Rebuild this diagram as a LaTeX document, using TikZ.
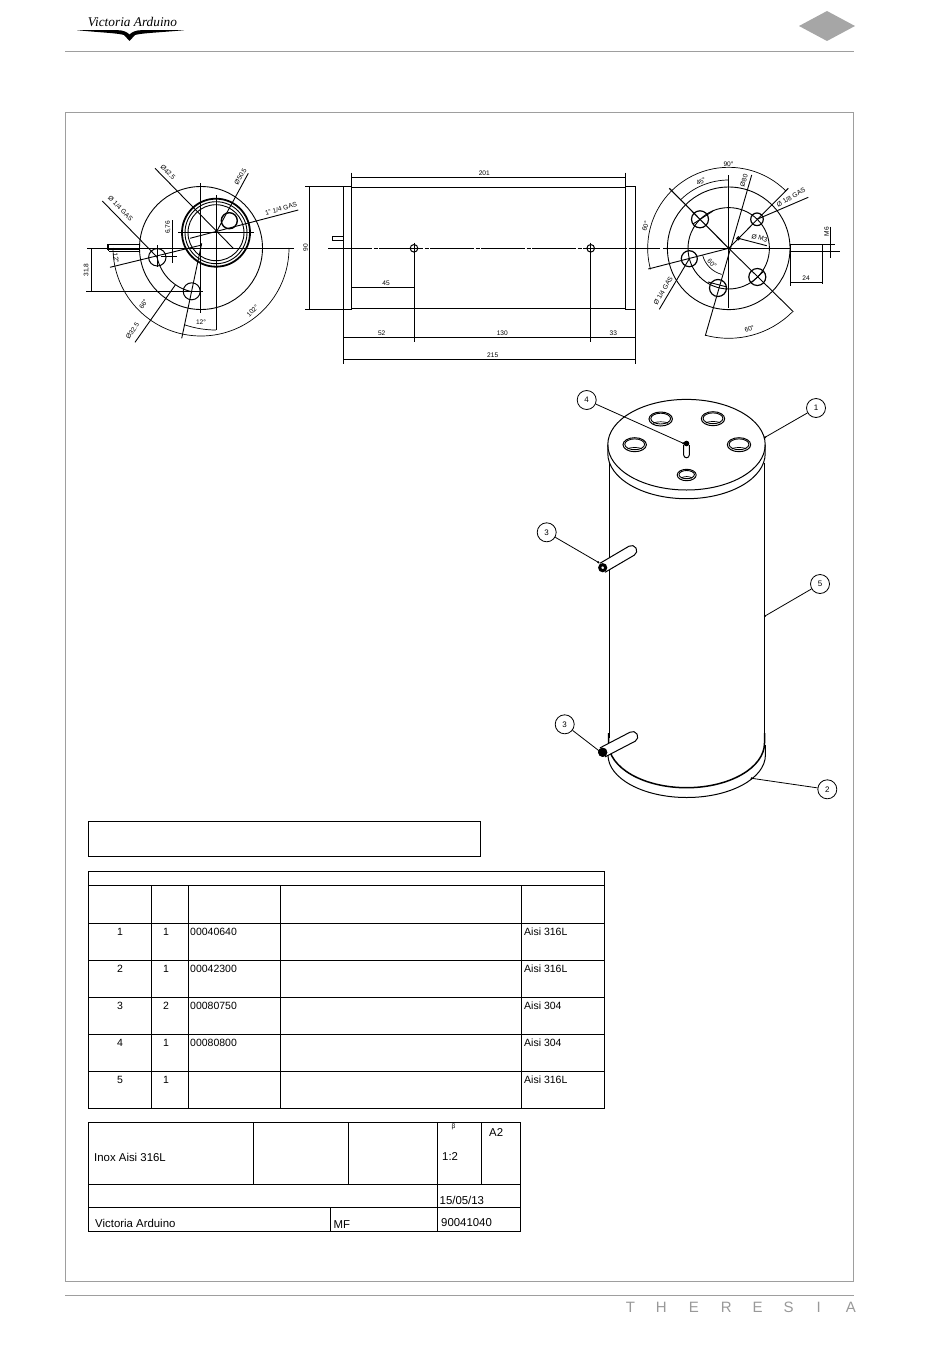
\documentclass[tikz,border=0pt]{standalone}
\usepackage{fontspec}
\setmainfont{Liberation Sans}
\usetikzlibrary{positioning,calc}
\definecolor{framegray}{gray}{0.62}
\tikzset{
  pipeline/.style={line width=0.9pt,black},
  hairline/.style={line width=0.7pt,black},
  heavyline/.style={line width=1.4pt,black},
  framerule/.style={line width=0.8pt,framegray},
  gridline/.style={line width=0.7pt,black},
  dimlabel/.style={font=\fontsize{6.6}{7}\selectfont,inner sep=0pt},
  celltext/.style={font=\fontsize{10.5}{12}\selectfont,inner sep=0pt,anchor=west},
  titletext/.style={font=\fontsize{11.4}{13}\selectfont,inner sep=0pt,anchor=west},
  balloon/.style={draw,circle,line width=0.8pt,minimum size=19pt,inner sep=0pt,fill=white,font=\fontsize{8}{9}\selectfont},
}
\newcommand{\dimarc}[4]{\draw[hairline] ($(#1)+(#2:#4)$) arc[start angle=#2,end angle=#3,radius=#4];}
\begin{document}
\begin{tikzpicture}[x=1pt,y=1pt]
  \useasboundingbox (0,0) rectangle (950,-1346);

  % page furniture
  \draw[framerule] (65,-51) -- (854,-51);
  \draw[framerule] (65,-1295) -- (854,-1295);
  \draw[framerule] (65.5,-112.5) rectangle (853.5,-1281.5);
  \fill[black!35] (799,-26) -- (827,-11) -- (855,-26) -- (827,-41) -- cycle;
  \node[inner sep=0pt] (logo) at (132.5,-22) {\fontspec{Liberation Serif}[Scale=0.7]\fontsize{19}{20}\selectfont\itshape Victoria Arduino};
  \fill[black] (77,-30.2) -- (118,-30.2) .. controls (123,-30.2) and (127,-32) .. (129.5,-34.5) .. controls (132,-32) and (136,-30.2) .. (141,-30.2) -- (184,-30.2) .. controls (160,-32.5) and (142,-33) .. (135,-35) -- (129.5,-41) -- (124,-35) .. controls (117,-33) and (100,-32.5) .. (77,-30.2) -- cycle;
  \node[font=\fontsize{15}{16}\selectfont,text=black!40,inner sep=0pt,anchor=east] (series) at (856,-1307) {T\hspace{21pt}H\hspace{22pt}E\hspace{22pt}R\hspace{21pt}E\hspace{21pt}S\hspace{23pt}I\hspace{25pt}A};

  % left view
  \coordinate (lc) at (201,-248);
  \coordinate (li) at (216,-232.7);
  \draw[pipeline] (lc) circle (61.5);
  \draw[pipeline] (lc) ++(-44,-9) arc[start angle=192,end angle=258,radius=45];
  \draw[heavyline,line width=1.8pt] (li) circle (34);
  \draw[pipeline] (li) circle (31);
  \draw[pipeline] (li) circle (28);
  \draw[heavyline] (229.3,-220.7) circle (8);
  \draw[heavyline,line width=1pt] (157.3,-257.3) circle (8.7);
  \draw[heavyline,line width=1pt] (191.7,-291.3) circle (8.5);
  \draw[pipeline] (87,-248) -- (294,-248);
  \draw[pipeline] (200.3,-183) -- (200.3,-313);
  \draw[pipeline] (216,-195) -- (216,-330);
  \draw[pipeline] (178,-232.7) -- (254,-232.7);
  \draw[pipeline] (155,-168.3) -- (233.3,-248.3);
  \draw[pipeline] (248.3,-173.3) -- (216,-232.7);
  \draw[pipeline] (298.3,-210) -- (190,-238.3);
  \draw[pipeline] (102.3,-201) -- (157.3,-257.3);
  \draw[pipeline] (135,-342.3) -- (175.3,-285);
  \draw[pipeline] (181.7,-338.3) -- (201.7,-243.3);
  \draw[pipeline] (110,-267.3) -- (201.7,-245);
  \draw[pipeline] (172.3,-220) -- (172.3,-263.3);
  \draw[pipeline] (161,-256.7) -- (176.7,-256.7);
  \draw[pipeline] (157.3,-245) -- (157.3,-267);
  \draw[pipeline] (86,-291.3) -- (203.3,-291.3);
  \draw[pipeline] (91.7,-248) -- (91.7,-291.3);
  \dimarc{lc}{180}{360}{88}
  \dimarc{li}{251.5}{270}{97.3}
  \draw[pipeline] (107.7,-244) rectangle (139.3,-249);
  \draw[heavyline] (109,-251.5) -- (139.3,-251.5);
  \draw[pipeline] (108,-244) -- (108,-251);
  \node[dimlabel,rotate=-45] (ldia1) at (168,-172.5) {Ø42.5};
  \node[dimlabel,rotate=60] (ldia2) at (240.5,-176.5) {Ø50.5};
  \node[dimlabel,rotate=15] (lgas1) at (281,-208.5) {1" 1/4 GAS};
  \node[dimlabel,rotate=-45] (lgas2) at (120.5,-208.5) {Ø 1/4 GAS};
  \node[dimlabel,rotate=90] (ld676) at (168,-227.5) {6,76};
  \node[dimlabel,rotate=90] (ld318) at (86.5,-270) {31,8};
  \node[dimlabel,rotate=-80] (la12a) at (116,-258) {12°};
  \node[dimlabel,rotate=55] (ld325) at (132.5,-331) {Ø32.5};
  \node[dimlabel,rotate=60] (la66) at (143.5,-304.5) {66°};
  \node[dimlabel,rotate=45] (la102) at (252.5,-311) {102°};
  \node[dimlabel] (la12b) at (201,-322) {12°};

  % middle view
  \draw[pipeline] (343.3,-186.7) rectangle (351.7,-309.3);
  \draw[pipeline] (625.3,-186.7) rectangle (635.7,-309.3);
  \draw[pipeline] (351.7,-187.3) -- (625.3,-187.3);
  \draw[pipeline] (351.7,-308.3) -- (625.3,-308.3);
  \draw[pipeline] (332.3,-236) rectangle (343.3,-240.7);
  \draw[pipeline,dash pattern=on 44pt off 1.5pt on 4pt off 1.5pt] (328,-248.3) -- (647,-248.3);
  \foreach \hx/\hname in {414/ha,590.7/hb} {
    \draw[heavyline,line width=1pt] (\hx,-248.3) circle (3.8);
    \draw[pipeline] (\hx,-242.7) -- (\hx,-341.7);
  }
  \draw[hairline] (305,-186.7) -- (343.3,-186.7);
  \draw[hairline] (305,-309.3) -- (343.3,-309.3);
  \draw[pipeline] (309.3,-186.7) -- (309.3,-309.3);
  \draw[hairline] (351.7,-172.7) -- (351.7,-186.7);
  \draw[hairline] (625.3,-172.7) -- (625.3,-186.7);
  \draw[hairline] (351.7,-177.3) -- (625.3,-177.3);
  \draw[hairline] (351.7,-287.3) -- (414,-287.3);
  \draw[hairline] (343.3,-309.3) -- (343.3,-363.7);
  \draw[hairline] (635.7,-309.3) -- (635.7,-363.7);
  \draw[hairline] (343.3,-337.3) -- (635.7,-337.3);
  \draw[hairline] (343.3,-359.3) -- (635.7,-359.3);
  \node[dimlabel,rotate=90] (md90) at (305.5,-247.7) {90};
  \node[dimlabel] (md201) at (484.3,-173.5) {201};
  \node[dimlabel] (md45) at (386,-283.5) {45};
  \node[dimlabel] (md52) at (381.7,-333.5) {52};
  \node[dimlabel] (md130) at (502.3,-333.5) {130};
  \node[dimlabel] (md33) at (613.3,-333.5) {33};
  \node[dimlabel] (md215) at (492.7,-355.5) {215};

  % right view
  \coordinate (rc) at (728.7,-248.3);
  \draw[pipeline] (rc) circle (61.3);
  \draw[pipeline] (rc) circle (40.7);
  \draw[heavyline,line width=1.2pt] (700,-219.3) circle (8.5);
  \draw[heavyline,line width=1.2pt] (757,-219.3) circle (6.3);
  \draw[heavyline,line width=1.2pt] (757.3,-277) circle (8.5);
  \draw[heavyline,line width=1.2pt] (718,-288) circle (8.5);
  \draw[heavyline,line width=1.2pt] (689.3,-258.7) circle (8);
  \draw[heavyline,line width=1pt] (738.3,-238.3) circle (1.6);
  \draw[pipeline,dash pattern=on 14pt off 3pt] (630,-248.3) -- (660,-248.3);
  \draw[pipeline] (663,-248.3) -- (790,-248.3);
  \draw[pipeline] (728.7,-175) -- (728.7,-308);
  \draw[heavyline,line width=1.1pt] (669.3,-188.3) -- (rc);
  \draw[pipeline] (rc) -- (793.3,-311.7);
  \draw[pipeline] (648.3,-269) -- (rc);
  \draw[pipeline] (705.3,-335.7) -- (751.7,-175);
  \draw[pipeline] (788.3,-188.3) -- (rc);
  \draw[pipeline] (808.3,-197.3) -- (757,-219.3);
  \draw[pipeline] (766.7,-245.7) -- (738.3,-238.3);
  \draw[pipeline] (659.3,-309.3) -- (689.3,-258.7);
  \draw[pipeline] (693,-224) -- (713,-211);
  \draw[pipeline] (751,-283) -- (764,-271);
  \draw[pipeline] (708,-282) -- (727,-287);
  \dimarc{rc}{195}{45}{81}
  \dimarc{rc}{135}{90}{68.3}
  \dimarc{rc}{255}{315}{90}
  \dimarc{rc}{195}{255}{27}
  \draw[pipeline] (790,-244.3) -- (835,-244.3);
  \draw[heavyline] (790,-251.7) -- (840,-251.7);
  \draw[pipeline] (822.3,-244.3) -- (822.3,-284);
  \draw[pipeline] (790,-244.3) -- (790,-286);
  \draw[hairline] (790,-282.7) -- (822.3,-282.7);
  \draw[pipeline] (830,-226.7) -- (830,-258.3);
  \node[dimlabel] (ra90) at (728.5,-164) {90°};
  \node[dimlabel,rotate=30] (ra45) at (701,-181.5) {45°};
  \node[dimlabel,rotate=72] (ra60a) at (645.5,-226.5) {60°};
  \node[dimlabel,rotate=72] (rd80) at (744,-180.5) {Ø80};
  \node[dimlabel,rotate=30] (rgas1) at (791,-197.5) {Ø 1/8 GAS};
  \node[dimlabel,rotate=-15] (rm3) at (759.5,-238) {Ø M3};
  \node[dimlabel,rotate=60] (rgas2) at (663,-291) {Ø 1/4 GAS};
  \node[dimlabel,rotate=-45] (ra60b) at (712,-263.5) {60°};
  \node[dimlabel,rotate=20] (ra60c) at (749.5,-329) {60°};
  \node[dimlabel] (rd24) at (806,-278.5) {24};
  \node[dimlabel,rotate=90] (rm6) at (826.5,-231.5) {M6};

  % tank
  \coordinate (tanktop) at (686.5,-444.7);
  \draw[pipeline] (609.3,-463) -- (609.3,-738);
  \draw[pipeline] (764.3,-463) -- (764.3,-738);
  \draw[line width=1pt] (tanktop) ellipse (78.7 and 45.3);
  \draw[line width=1pt] (607.8,-444.7) -- (607.8,-453.4) arc[start angle=180,end angle=360,x radius=78.7,y radius=45.3] -- (765.2,-444.7);
  \foreach \hx/\hy/\hrx/\hry in {660.7/-419/11.7/7,713/-418.7/11.7/7,634.7/-444.7/11.7/7,739/-444.7/11.7/7,686.7/-475/9.5/5.7} {
    \draw[line width=1pt] (\hx,\hy) ellipse[x radius=\hrx,y radius=\hry];
    \draw[pipeline] (\hx,\hy+0.4) ellipse[x radius=\hrx-1.8,y radius=\hry-1.6];
    \draw[hairline] (\hx-\hrx+4.5,\hy-\hry+2.4) arc[start angle=180,end angle=0,x radius=\hrx-4.5,y radius=1.8];
  }
  \draw[line width=1pt] (683.7,-445) -- (683.7,-455) arc[start angle=180,end angle=360,radius=2.8] -- (689.3,-445);
  \fill (686.5,-443.5) circle (2.8);
  \draw[line width=1.5pt] (608.5,-733) -- (608.5,-743) arc[start angle=180,end angle=360,x radius=78,y radius=44.7] -- (764.5,-733);
  \draw[line width=1pt] (608,-755) arc[start angle=180,end angle=360,x radius=78.7,y radius=42.5] -- (765.4,-745);

  % pipes
  \foreach \rx/\ry/\ex/\ey/\pname in {602.7/-567.7/631.7/-550.7/upper,602.7/-752.3/632.7/-736.7/lower} {
    \draw[line width=1pt,fill=white,line cap=round,line join=round] (\rx+2.5,\ry-4.5) -- (\ex+2.5,\ey-4.5) arc[start angle=-60,end angle=120,radius=5.2] -- (\rx-2.6,\ry+4.5);
    \draw[line width=3pt,fill=white] (\rx,\ry) circle (3);
  }
  \fill (602.7,-752.3) circle (4.5);

  % callouts
  \node[balloon] (item1) at (816,-408) {1};
  \node[balloon] (item2) at (827.3,-789.3) {2};
  \node[balloon] (item3a) at (546.7,-532.3) {3};
  \node[balloon] (item3b) at (564.7,-724.3) {3};
  \node[balloon] (item4) at (586.7,-400) {4};
  \node[balloon] (item5) at (820,-584) {5};
  \coordinate (tip1) at (765,-437.3);
  \coordinate (tip2) at (751.7,-778.3);
  \coordinate (tip3a) at (598.3,-562.3);
  \coordinate (tip3b) at (599.3,-751);
  \coordinate (tip4) at (683.3,-443.3);
  \coordinate (tip5) at (765,-616);
  \foreach \a/\b in {item1/tip1,item2/tip2,item3a/tip3a,item3b/tip3b,item4/tip4,item5/tip5} {
    \draw[line width=0.8pt] (\a) -- (\b);
    \fill (\b) circle (1.2);
  }

  % parts list
  \draw[gridline] (88.5,-821.5) rectangle (480.5,-856.5);
  \draw[gridline] (88.5,-871.5) rectangle (604.5,-1108.5);
  \draw[gridline] (88.5,-885.5) -- (604.5,-885.5);
  \foreach \ly in {923.5,960.5,997.5,1034.5,1071.5} {
    \draw[gridline] (88.5,-\ly) -- (604.5,-\ly);
  }
  \foreach \lx in {151.5,188.5,280.5,521.5} {
    \draw[gridline] (\lx,-885.5) -- (\lx,-1108.5);
  }
  \foreach \ly/\itemno/\qty/\code/\mat in {931.5/1/1/00040640/Aisi 316L,968.5/2/1/00042300/Aisi 316L,1005.5/3/2/00080750/Aisi 304,1042.5/4/1/00080800/Aisi 304,1079.5/5/1//Aisi 316L} {
    \node[celltext,anchor=center] (no\itemno) at (120,-\ly) {\itemno};
    \node[celltext,anchor=center] (qty\itemno) at (166,-\ly) {\qty};
    \node[celltext] (code\itemno) at (190,-\ly) {\code};
    \node[celltext] (mat\itemno) at (524,-\ly) {\mat};
  }

  % title block
  \draw[gridline] (88.5,-1122.5) rectangle (520.5,-1231.5);
  \draw[gridline] (88.5,-1184.5) -- (520.5,-1184.5);
  \draw[gridline] (88.5,-1207.5) -- (520.5,-1207.5);
  \foreach \lx in {253.5,348.5,481.5} {
    \draw[gridline] (\lx,-1122.5) -- (\lx,-1184.5);
  }
  \draw[gridline] (437.5,-1122.5) -- (437.5,-1231.5);
  \draw[gridline] (330.5,-1207.5) -- (330.5,-1231.5);
  \node[titletext] (matl) at (94,-1157.5) {Inox Aisi 316L};
  \node[dimlabel] (beta) at (453.5,-1127) {β};
  \node[titletext] (scale) at (442,-1156.5) {1:2};
  \node[titletext] (paper) at (489,-1132.5) {A2};
  \node[titletext] (date) at (439.5,-1200) {15/05/13};
  \node[titletext] (maker) at (95,-1223.5) {Victoria Arduino};
  \node[titletext] (sign) at (333.5,-1224.5) {MF};
  \node[titletext] (drawno) at (441,-1223) {90041040};
\end{tikzpicture}
\end{document}
